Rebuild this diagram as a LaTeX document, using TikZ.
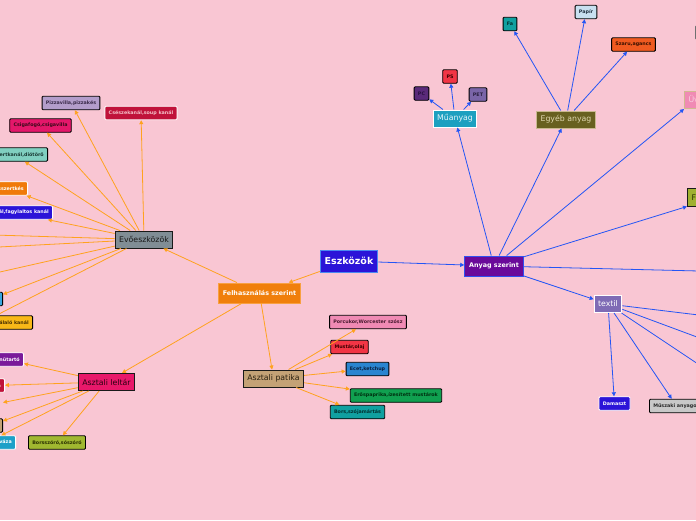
\documentclass[tikz,border=0pt]{standalone}
\usepackage{fontspec}
\setmainfont{DejaVu Sans}
\usetikzlibrary{arrows.meta}
\definecolor{bg}{HTML}{F9C6D3}
\definecolor{orng}{HTML}{FFA21E}
\definecolor{blu}{HTML}{2455F5}
\tikzset{
  hf/.code={\definecolor{tmpfill}{HTML}{#1}\pgfkeysalso{/tikz/fill=tmpfill}},
  hd/.code={\definecolor{tmpdraw}{HTML}{#1}\pgfkeysalso{/tikz/draw=tmpdraw}},
  ht/.code={\definecolor{tmptext}{HTML}{#1}\pgfkeysalso{/tikz/text=tmptext}},
  leaf/.style={draw=black, line width=0.9pt, rounded corners=1pt,
    font=\fontsize{4.8}{5.5}\selectfont\bfseries, minimum height=13.5, inner xsep=3.8, inner ysep=0},
  leafw/.style={leaf, draw=white},
  mid/.style={draw=black!90, line width=1pt, font=\fontsize{7.8}{8.5}\selectfont,
    minimum height=17, inner xsep=4, inner ysep=0},
  topn/.style={line width=0.9pt, font=\fontsize{6.4}{7}\selectfont\bfseries, text=white,
    minimum height=20, inner xsep=4.5, inner ysep=0},
  oe/.style={draw=orng, line width=0.8pt, -{Triangle[length=4pt,width=4pt]}},
  be/.style={draw=blu, line width=0.8pt, -{Triangle[length=4pt,width=4pt]}},
}
\begin{document}
\begin{tikzpicture}[x=1pt,y=-1pt]
\useasboundingbox (0,0) rectangle (696,520);
\clip (0,0) rectangle (696,520);
\fill[bg] (0,0) rectangle (696,520);

% main nodes
\node[topn, hf=2B14D8, hd=4A8AF0, font=\fontsize{9.5}{10}\selectfont\bfseries, minimum height=22] (esz) at (349,261) {Eszközök};
\node[topn, hf=F07F0B, hd=F8A040] (felh) at (259.5,293) {Felhasználás szerint};
\node[topn, hf=6A0A9A, hd=3050F0] (anyag) at (494,266) {Anyag szerint};

\node[mid, hf=808D95, ht=1A1A1A] (evo) at (144,239.5) {Evőeszközök};
\node[mid, hf=E8186A, ht=2A0010] (leltar) at (106.5,382) {Asztali leltár};
\node[mid, hf=C4A276, ht=2A2010] (patika) at (273.5,378.5) {Asztali patika};

\node[mid, hf=1DA0C0, draw=white, ht=E6F4FA] (muanyag) at (455,118.5) {Műanyag};
\node[mid, hf=686020, hd=C8B890, ht=E0D8B0] (egyeb) at (566,119.5) {Egyéb anyag};
\node[mid, hf=7F6BB5, draw=white, text=white] (textil) at (608,304) {textil};
\node[mid, hf=F08AB4, hd=D0B890, ht=F8D0E0, anchor=west] (uveg) at (684,100) {Üveg};
\node[mid, hf=A0B030, ht=2A3000, anchor=west, minimum height=18] (fem) at (687,197) {Fém};

% Evőeszközök leaves
\node[leaf, hf=B39DCB, ht=3A2A4A] (pizza) at (71,103) {Pizzavilla,pizzakés};
\node[leafw, hf=C0123A, ht=F4C0C8] (csesze) at (141,113) {Csészekanál,soup kanál};
\node[leaf, hf=E4176A, ht=3A0A1A] (csiga) at (40.5,125.5) {Csigafogó,csigavilla};
\node[leaf, hf=80CFC0, ht=1A3A35, anchor=east] (dio) at (48,154.5) {Desszertkanál,diótörő};
\node[leafw, hf=F07A0A, text=white, anchor=east] (dkes) at (28,188.5) {Desszertkés};
\node[leafw, hf=2B14D8, text=white, anchor=east] (fagyi) at (53,212.5) {Teáskanál,fagylaltos kanál};
\node[leaf, hf=3AA8E0, anchor=east] (kek) at (3,299) {Kanál};
\node[leaf, hf=F8B818, ht=4A3000, anchor=east] (talalo) at (33,322.5) {Tálaló kanál};
\coordinate (e1) at (-40,234);
\coordinate (e2) at (-40,249);
\coordinate (e3) at (-40,281);
\coordinate (e4) at (-40,334);

% Asztali leltár leaves
\node[leafw, hf=7A1A9A, text=white, anchor=east] (menu) at (24,359.5) {Menütartó};
\node[leafw, hf=C0123A, text=white, anchor=east] (piros) at (5,385.5) {Tálca};
\coordinate (l3) at (3,402.5);
\node[leaf, hf=C4A276, anchor=east] (barna) at (3,425.5) {Kosár};
\node[leafw, hf=1DA0C8, text=white, anchor=east] (cian) at (16,442.5) {Gyertyatartó,váza};
\node[leaf, hf=A0B830, ht=2A3000] (bors1) at (57,442.5) {Borsszóró,sószóró};

% Asztali patika leaves
\node[leaf, hf=F08AB4, ht=4A1A30] (porc) at (368,322) {Porcukor,Worcester szósz};
\node[leaf, hf=F23545, ht=3A0000] (must) at (349.5,347) {Mustár,olaj};
\node[leaf, hf=2A85D0, ht=0A2040] (ecet) at (367.5,369) {Ecet,ketchup};
\node[leaf, hf=10A050, ht=003010] (eros) at (396,395.5) {Erőspaprika,ízesített mustárok};
\node[leaf, hf=10A0A0, ht=003030] (bors2) at (357.5,412) {Bors,szójamártás};

% Műanyag leaves
\node[leaf, hf=5A2A7A, ht=2A1040] (pc) at (421.5,93.5) {PC};
\node[leaf, hf=F23545, ht=3A0000] (ps) at (450,76.5) {PS};
\node[leaf, hf=7A65A8, ht=2A2040] (pet) at (478,94.5) {PET};

% Egyéb anyag leaves
\node[leaf, hf=10A0A0, ht=003030] (fa) at (510,24) {Fa};
\node[leaf, hf=C8E0F0, ht=203040] (papir) at (586,12) {Papír};
\node[leaf, hf=F05A20, ht=3A1000] (szaru) at (633.5,44.5) {Szaru,agancs};
\node[leaf, hf=C8C8C8, hd=707070, anchor=west] (kicsi) at (695,32.5) {Egyéb};

% textil leaves
\node[leafw, hf=2B14D8, text=white] (damaszt) at (614.5,403.5) {Damaszt};
\node[leaf, hf=C8C8C8, ht=2A2A2A, anchor=west] (muszaki) at (649,406) {Műszaki anyagok};
\coordinate (t1) at (740,320);
\coordinate (t2) at (740,353);
\coordinate (t3) at (740,392);
\coordinate (ajobb) at (740,272);

% connectors: left (orange)
\draw[oe] (esz) -- (felh);
\draw[oe] (felh) -- (evo);
\draw[oe] (felh) -- (leltar);
\draw[oe] (felh) -- (patika);
\foreach \t in {pizza,csesze,csiga,dio,dkes,fagyi,kek,e1,e2,e3,e4}
  \draw[oe] (evo) -- (\t);
\foreach \t in {menu,piros,l3,barna,cian,bors1}
  \draw[oe] (leltar) -- (\t);
\foreach \t in {porc,must,ecet,eros,bors2}
  \draw[oe] (patika) -- (\t);

% connectors: right (blue)
\draw[be] (esz) -- (anyag);
\draw[be] (anyag) -- (muanyag);
\draw[be] (anyag) -- (egyeb);
\draw[be] (anyag) -- (uveg.south west);
\draw[be] (anyag) -- (fem.south west);
\draw[be] (anyag) -- (ajobb);
\draw[be] (anyag) -- (textil);
\foreach \t in {pc,ps,pet}
  \draw[be] (muanyag) -- (\t);
\foreach \t in {fa,papir,szaru}
  \draw[be] (egyeb) -- (\t);
\foreach \t in {damaszt,muszaki,t1,t2,t3}
  \draw[be] (textil) -- (\t);
\end{tikzpicture}
\end{document}
